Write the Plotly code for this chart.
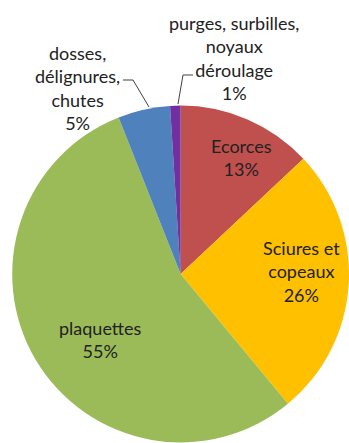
import plotly.graph_objects as go

# Répartition des produits connexes (sciage / déroulage)
categories = [
    "Ecorces",
    "Sciures et<br>copeaux",
    "plaquettes",
    "dosses,<br>délignures,<br>chutes",
    "purges, surbilles,<br>noyaux<br>déroulage",
]
values = [13, 26, 55, 5, 1]
colors = ["#C0504D", "#FFC000", "#9BBB59", "#4F81BD", "#7030A0"]

W, H = 349, 443
FONT = dict(family="Lato, 'Open Sans', sans-serif", size=18, color="#222222")

# label anchor points in pixels (centre of each text block)
label_pos = [(242, 157), (301, 271), (100, 339), (77, 88), (234, 58)]


def px(x, y):
    return x / W, 1 - y / H


fig = go.Figure(
    go.Pie(
        labels=categories,
        values=values,
        marker=dict(colors=colors, line=dict(width=0)),
        sort=False,
        direction="clockwise",
        rotation=0,
        textinfo="none",
        hoverinfo="label+percent",
        domain=dict(x=[0.035, 1.0], y=[0.0, 0.763]),
        showlegend=False,
    )
)

total = sum(values)
annotations = []
for name, v, (x, y) in zip(categories, values, label_pos):
    ax, ay = px(x, y)
    annotations.append(
        dict(
            x=ax, y=ay, xref="paper", yref="paper",
            text=f"{name}<br>{round(100 * v / total)}%",
            showarrow=False, font=FONT, align="center",
            xanchor="center", yanchor="middle",
        )
    )

# leader lines for the two small slices
leaders = [
    [(123, 80), (133, 80), (149, 107)],
    [(193, 75), (183, 75), (178, 104)],
]
shapes = []
for pts in leaders:
    path = ""
    for i, (x, y) in enumerate(pts):
        X, Y = px(x, y)
        path += ("M" if i == 0 else "L") + f"{X:.4f},{Y:.4f} "
    shapes.append(
        dict(type="path", xref="paper", yref="paper", path=path.strip(),
             line=dict(color="#404040", width=1))
    )

fig.update_layout(
    width=W, height=H,
    margin=dict(l=0, r=0, t=0, b=0),
    paper_bgcolor="white",
    plot_bgcolor="white",
    annotations=annotations,
    shapes=shapes,
)

fig.write_html("out.html")
